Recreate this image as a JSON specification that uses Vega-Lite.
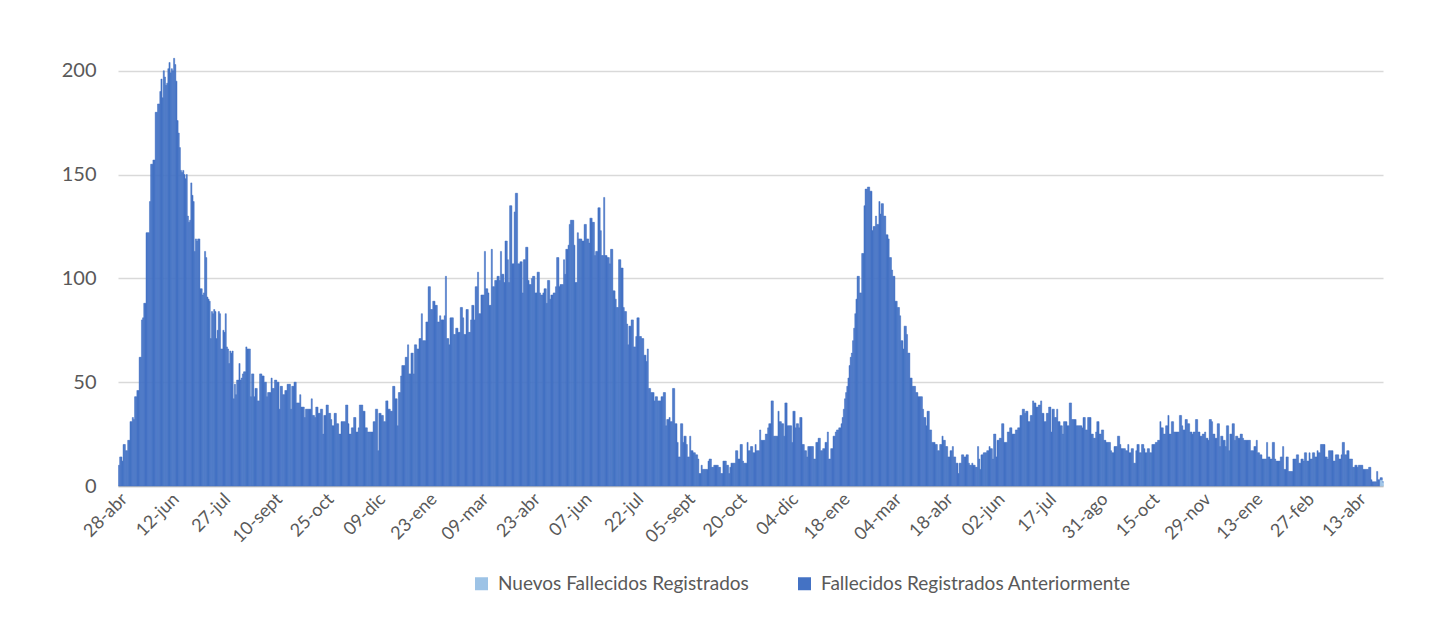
{
"$schema": "https://vega.github.io/schema/vega-lite/v6.json",
"width": 1265, "height": 436,
"autosize": {"type": "none"},
"padding": {"left": 118, "top": 50, "right": 46, "bottom": 141},
"background": "white",
"config": {"view": {"stroke": null}, "font": "Lato"},
"data": {"values": [
{"d":"2020-04-28","a":10},{"d":"2020-04-29","a":14},{"d":"2020-04-30","a":14},
{"d":"2020-05-01","a":12},{"d":"2020-05-02","a":20},{"d":"2020-05-03","a":20},{"d":"2020-05-04","a":17},{"d":"2020-05-05","a":17},{"d":"2020-05-06","a":22},{"d":"2020-05-07","a":22},{"d":"2020-05-08","a":31},{"d":"2020-05-09","a":31},{"d":"2020-05-10","a":33},{"d":"2020-05-11","a":32},{"d":"2020-05-12","a":43},{"d":"2020-05-13","a":43},{"d":"2020-05-14","a":46},{"d":"2020-05-15","a":46},{"d":"2020-05-16","a":62},{"d":"2020-05-17","a":62},{"d":"2020-05-18","a":80},{"d":"2020-05-19","a":81},{"d":"2020-05-20","a":88},{"d":"2020-05-21","a":88},{"d":"2020-05-22","a":122},{"d":"2020-05-23","a":122},{"d":"2020-05-24","a":122},{"d":"2020-05-25","a":137},{"d":"2020-05-26","a":155},{"d":"2020-05-27","a":155},{"d":"2020-05-28","a":157},{"d":"2020-05-29","a":157},{"d":"2020-05-30","a":180},{"d":"2020-05-31","a":180},
{"d":"2020-06-01","a":184},{"d":"2020-06-02","a":184},{"d":"2020-06-03","a":190},{"d":"2020-06-04","a":196},{"d":"2020-06-05","a":187},{"d":"2020-06-06","a":200},{"d":"2020-06-07","a":197},{"d":"2020-06-08","a":193},{"d":"2020-06-09","a":194},{"d":"2020-06-10","a":201},{"d":"2020-06-11","a":204},{"d":"2020-06-12","a":199},{"d":"2020-06-13","a":201},{"d":"2020-06-14","a":200},{"d":"2020-06-15","a":206},{"d":"2020-06-16","a":203},{"d":"2020-06-17","a":195},{"d":"2020-06-18","a":176},{"d":"2020-06-19","a":170},{"d":"2020-06-20","a":163},{"d":"2020-06-21","a":152},{"d":"2020-06-22","a":151},{"d":"2020-06-23","a":152},{"d":"2020-06-24","a":150},{"d":"2020-06-25","a":148},{"d":"2020-06-26","a":150},{"d":"2020-06-27","a":130},{"d":"2020-06-28","a":127},{"d":"2020-06-29","a":128},{"d":"2020-06-30","a":146},
{"d":"2020-07-01","a":140},{"d":"2020-07-02","a":137},{"d":"2020-07-03","a":113},{"d":"2020-07-04","a":119},{"d":"2020-07-05","a":118},{"d":"2020-07-06","a":119},{"d":"2020-07-07","a":119},{"d":"2020-07-08","a":95},{"d":"2020-07-09","a":95},{"d":"2020-07-10","a":92},{"d":"2020-07-11","a":93},{"d":"2020-07-12","a":113},{"d":"2020-07-13","a":110},{"d":"2020-07-14","a":91},{"d":"2020-07-15","a":90},{"d":"2020-07-16","a":89},{"d":"2020-07-17","a":71},{"d":"2020-07-18","a":84},{"d":"2020-07-19","a":83},{"d":"2020-07-20","a":85},{"d":"2020-07-21","a":84},{"d":"2020-07-22","a":71},{"d":"2020-07-23","a":75},{"d":"2020-07-24","a":84},{"d":"2020-07-25","a":83},{"d":"2020-07-26","a":66},{"d":"2020-07-27","a":66},{"d":"2020-07-28","a":75},{"d":"2020-07-29","a":74},{"d":"2020-07-30","a":83},{"d":"2020-07-31","a":67},
{"d":"2020-08-01","a":66},{"d":"2020-08-02","a":59},{"d":"2020-08-03","a":65},{"d":"2020-08-04","a":64},{"d":"2020-08-05","a":65},{"d":"2020-08-06","a":42},{"d":"2020-08-07","a":49},{"d":"2020-08-08","a":44},{"d":"2020-08-09","a":51},{"d":"2020-08-10","a":51},{"d":"2020-08-11","a":59},{"d":"2020-08-12","a":51},{"d":"2020-08-13","a":52},{"d":"2020-08-14","a":54},{"d":"2020-08-15","a":55},{"d":"2020-08-16","a":55},{"d":"2020-08-17","a":67},{"d":"2020-08-18","a":66},{"d":"2020-08-19","a":66},{"d":"2020-08-20","a":66},{"d":"2020-08-21","a":43},{"d":"2020-08-22","a":54},{"d":"2020-08-23","a":54},{"d":"2020-08-24","a":43},{"d":"2020-08-25","a":47},{"d":"2020-08-26","a":47},{"d":"2020-08-27","a":41},{"d":"2020-08-28","a":41},{"d":"2020-08-29","a":54},{"d":"2020-08-30","a":54},{"d":"2020-08-31","a":53},
{"d":"2020-09-01","a":53},{"d":"2020-09-02","a":50},{"d":"2020-09-03","a":50},{"d":"2020-09-04","a":43},{"d":"2020-09-05","a":45},{"d":"2020-09-06","a":45},{"d":"2020-09-07","a":45},{"d":"2020-09-08","a":52},{"d":"2020-09-09","a":47},{"d":"2020-09-10","a":47},{"d":"2020-09-11","a":51},{"d":"2020-09-12","a":51},{"d":"2020-09-13","a":50},{"d":"2020-09-14","a":50},{"d":"2020-09-15","a":37},{"d":"2020-09-16","a":48},{"d":"2020-09-17","a":48},{"d":"2020-09-18","a":44},{"d":"2020-09-19","a":44},{"d":"2020-09-20","a":46},{"d":"2020-09-21","a":46},{"d":"2020-09-22","a":49},{"d":"2020-09-23","a":49},{"d":"2020-09-24","a":49},{"d":"2020-09-25","a":37},{"d":"2020-09-26","a":48},{"d":"2020-09-27","a":48},{"d":"2020-09-28","a":50},{"d":"2020-09-29","a":50},{"d":"2020-09-30","a":40},
{"d":"2020-10-01","a":40},{"d":"2020-10-02","a":40},{"d":"2020-10-03","a":44},{"d":"2020-10-04","a":38},{"d":"2020-10-05","a":38},{"d":"2020-10-06","a":38},{"d":"2020-10-07","a":33},{"d":"2020-10-08","a":37},{"d":"2020-10-09","a":37},{"d":"2020-10-10","a":37},{"d":"2020-10-11","a":37},{"d":"2020-10-12","a":37},{"d":"2020-10-13","a":42},{"d":"2020-10-14","a":34},{"d":"2020-10-15","a":34},{"d":"2020-10-16","a":33},{"d":"2020-10-17","a":38},{"d":"2020-10-18","a":38},{"d":"2020-10-19","a":35},{"d":"2020-10-20","a":35},{"d":"2020-10-21","a":37},{"d":"2020-10-22","a":37},{"d":"2020-10-23","a":25},{"d":"2020-10-24","a":34},{"d":"2020-10-25","a":34},{"d":"2020-10-26","a":39},{"d":"2020-10-27","a":39},{"d":"2020-10-28","a":35},{"d":"2020-10-29","a":35},{"d":"2020-10-30","a":32},{"d":"2020-10-31","a":29},
{"d":"2020-11-01","a":29},{"d":"2020-11-02","a":35},{"d":"2020-11-03","a":35},{"d":"2020-11-04","a":30},{"d":"2020-11-05","a":30},{"d":"2020-11-06","a":25},{"d":"2020-11-07","a":25},{"d":"2020-11-08","a":31},{"d":"2020-11-09","a":31},{"d":"2020-11-10","a":31},{"d":"2020-11-11","a":31},{"d":"2020-11-12","a":39},{"d":"2020-11-13","a":39},{"d":"2020-11-14","a":30},{"d":"2020-11-15","a":25},{"d":"2020-11-16","a":25},{"d":"2020-11-17","a":28},{"d":"2020-11-18","a":28},{"d":"2020-11-19","a":33},{"d":"2020-11-20","a":33},{"d":"2020-11-21","a":26},{"d":"2020-11-22","a":26},{"d":"2020-11-23","a":28},{"d":"2020-11-24","a":39},{"d":"2020-11-25","a":39},{"d":"2020-11-26","a":39},{"d":"2020-11-27","a":36},{"d":"2020-11-28","a":36},{"d":"2020-11-29","a":28},{"d":"2020-11-30","a":28},
{"d":"2020-12-01","a":26},{"d":"2020-12-02","a":26},{"d":"2020-12-03","a":26},{"d":"2020-12-04","a":26},{"d":"2020-12-05","a":26},{"d":"2020-12-06","a":31},{"d":"2020-12-07","a":31},{"d":"2020-12-08","a":37},{"d":"2020-12-09","a":37},{"d":"2020-12-10","a":17},{"d":"2020-12-11","a":35},{"d":"2020-12-12","a":35},{"d":"2020-12-13","a":34},{"d":"2020-12-14","a":34},{"d":"2020-12-15","a":31},{"d":"2020-12-16","a":31},{"d":"2020-12-17","a":41},{"d":"2020-12-18","a":41},{"d":"2020-12-19","a":37},{"d":"2020-12-20","a":37},{"d":"2020-12-21","a":36},{"d":"2020-12-22","a":36},{"d":"2020-12-23","a":48},{"d":"2020-12-24","a":48},{"d":"2020-12-25","a":42},{"d":"2020-12-26","a":42},{"d":"2020-12-27","a":29},{"d":"2020-12-28","a":45},{"d":"2020-12-29","a":45},{"d":"2020-12-30","a":53},{"d":"2020-12-31","a":58},
{"d":"2021-01-01","a":58},{"d":"2021-01-02","a":58},{"d":"2021-01-03","a":62},{"d":"2021-01-04","a":62},{"d":"2021-01-05","a":68},{"d":"2021-01-06","a":54},{"d":"2021-01-07","a":54},{"d":"2021-01-08","a":64},{"d":"2021-01-09","a":64},{"d":"2021-01-10","a":54},{"d":"2021-01-11","a":68},{"d":"2021-01-12","a":68},{"d":"2021-01-13","a":66},{"d":"2021-01-14","a":66},{"d":"2021-01-15","a":71},{"d":"2021-01-16","a":71},{"d":"2021-01-17","a":83},{"d":"2021-01-18","a":70},{"d":"2021-01-19","a":70},{"d":"2021-01-20","a":70},{"d":"2021-01-21","a":79},{"d":"2021-01-22","a":79},{"d":"2021-01-23","a":96},{"d":"2021-01-24","a":96},{"d":"2021-01-25","a":85},{"d":"2021-01-26","a":85},{"d":"2021-01-27","a":89},{"d":"2021-01-28","a":89},{"d":"2021-01-29","a":87},{"d":"2021-01-30","a":87},{"d":"2021-01-31","a":79},
{"d":"2021-02-01","a":79},{"d":"2021-02-02","a":82},{"d":"2021-02-03","a":80},{"d":"2021-02-04","a":80},{"d":"2021-02-05","a":80},{"d":"2021-02-06","a":82},{"d":"2021-02-07","a":101},{"d":"2021-02-08","a":71},{"d":"2021-02-09","a":71},{"d":"2021-02-10","a":68},{"d":"2021-02-11","a":81},{"d":"2021-02-12","a":81},{"d":"2021-02-13","a":81},{"d":"2021-02-14","a":73},{"d":"2021-02-15","a":73},{"d":"2021-02-16","a":76},{"d":"2021-02-17","a":76},{"d":"2021-02-18","a":74},{"d":"2021-02-19","a":74},{"d":"2021-02-20","a":86},{"d":"2021-02-21","a":86},{"d":"2021-02-22","a":81},{"d":"2021-02-23","a":73},{"d":"2021-02-24","a":73},{"d":"2021-02-25","a":85},{"d":"2021-02-26","a":85},{"d":"2021-02-27","a":74},{"d":"2021-02-28","a":74},
{"d":"2021-03-01","a":80},{"d":"2021-03-02","a":87},{"d":"2021-03-03","a":87},{"d":"2021-03-04","a":80},{"d":"2021-03-05","a":96},{"d":"2021-03-06","a":96},{"d":"2021-03-07","a":103},{"d":"2021-03-08","a":83},{"d":"2021-03-09","a":83},{"d":"2021-03-10","a":92},{"d":"2021-03-11","a":92},{"d":"2021-03-12","a":92},{"d":"2021-03-13","a":113},{"d":"2021-03-14","a":95},{"d":"2021-03-15","a":95},{"d":"2021-03-16","a":93},{"d":"2021-03-17","a":87},{"d":"2021-03-18","a":87},{"d":"2021-03-19","a":114},{"d":"2021-03-20","a":96},{"d":"2021-03-21","a":96},{"d":"2021-03-22","a":99},{"d":"2021-03-23","a":99},{"d":"2021-03-24","a":101},{"d":"2021-03-25","a":101},{"d":"2021-03-26","a":99},{"d":"2021-03-27","a":113},{"d":"2021-03-28","a":102},{"d":"2021-03-29","a":102},{"d":"2021-03-30","a":98},{"d":"2021-03-31","a":118},
{"d":"2021-04-01","a":118},{"d":"2021-04-02","a":109},{"d":"2021-04-03","a":98},{"d":"2021-04-04","a":135},{"d":"2021-04-05","a":135},{"d":"2021-04-06","a":107},{"d":"2021-04-07","a":107},{"d":"2021-04-08","a":132},{"d":"2021-04-09","a":141},{"d":"2021-04-10","a":141},{"d":"2021-04-11","a":107},{"d":"2021-04-12","a":107},{"d":"2021-04-13","a":108},{"d":"2021-04-14","a":108},{"d":"2021-04-15","a":93},{"d":"2021-04-16","a":109},{"d":"2021-04-17","a":109},{"d":"2021-04-18","a":115},{"d":"2021-04-19","a":115},{"d":"2021-04-20","a":99},{"d":"2021-04-21","a":97},{"d":"2021-04-22","a":97},{"d":"2021-04-23","a":100},{"d":"2021-04-24","a":101},{"d":"2021-04-25","a":101},{"d":"2021-04-26","a":93},{"d":"2021-04-27","a":93},{"d":"2021-04-28","a":103},{"d":"2021-04-29","a":103},{"d":"2021-04-30","a":93},
{"d":"2021-05-01","a":92},{"d":"2021-05-02","a":92},{"d":"2021-05-03","a":93},{"d":"2021-05-04","a":95},{"d":"2021-05-05","a":95},{"d":"2021-05-06","a":88},{"d":"2021-05-07","a":99},{"d":"2021-05-08","a":99},{"d":"2021-05-09","a":90},{"d":"2021-05-10","a":92},{"d":"2021-05-11","a":92},{"d":"2021-05-12","a":93},{"d":"2021-05-13","a":93},{"d":"2021-05-14","a":96},{"d":"2021-05-15","a":110},{"d":"2021-05-16","a":110},{"d":"2021-05-17","a":96},{"d":"2021-05-18","a":97},{"d":"2021-05-19","a":97},{"d":"2021-05-20","a":97},{"d":"2021-05-21","a":109},{"d":"2021-05-22","a":102},{"d":"2021-05-23","a":114},{"d":"2021-05-24","a":114},{"d":"2021-05-25","a":116},{"d":"2021-05-26","a":126},{"d":"2021-05-27","a":128},{"d":"2021-05-28","a":128},{"d":"2021-05-29","a":128},{"d":"2021-05-30","a":116},{"d":"2021-05-31","a":98},
{"d":"2021-06-01","a":98},{"d":"2021-06-02","a":122},{"d":"2021-06-03","a":119},{"d":"2021-06-04","a":119},{"d":"2021-06-05","a":119},{"d":"2021-06-06","a":118},{"d":"2021-06-07","a":118},{"d":"2021-06-08","a":126},{"d":"2021-06-09","a":126},{"d":"2021-06-10","a":119},{"d":"2021-06-11","a":119},{"d":"2021-06-12","a":117},{"d":"2021-06-13","a":129},{"d":"2021-06-14","a":129},{"d":"2021-06-15","a":127},{"d":"2021-06-16","a":127},{"d":"2021-06-17","a":111},{"d":"2021-06-18","a":113},{"d":"2021-06-19","a":113},{"d":"2021-06-20","a":134},{"d":"2021-06-21","a":134},{"d":"2021-06-22","a":123},{"d":"2021-06-23","a":111},{"d":"2021-06-24","a":111},{"d":"2021-06-25","a":139},{"d":"2021-06-26","a":111},{"d":"2021-06-27","a":111},{"d":"2021-06-28","a":110},{"d":"2021-06-29","a":110},{"d":"2021-06-30","a":107},
{"d":"2021-07-01","a":114},{"d":"2021-07-02","a":114},{"d":"2021-07-03","a":94},{"d":"2021-07-04","a":94},{"d":"2021-07-05","a":90},{"d":"2021-07-06","a":86},{"d":"2021-07-07","a":86},{"d":"2021-07-08","a":109},{"d":"2021-07-09","a":109},{"d":"2021-07-10","a":105},{"d":"2021-07-11","a":105},{"d":"2021-07-12","a":86},{"d":"2021-07-13","a":84},{"d":"2021-07-14","a":84},{"d":"2021-07-15","a":78},{"d":"2021-07-16","a":68},{"d":"2021-07-17","a":77},{"d":"2021-07-18","a":77},{"d":"2021-07-19","a":80},{"d":"2021-07-20","a":80},{"d":"2021-07-21","a":67},{"d":"2021-07-22","a":67},{"d":"2021-07-23","a":72},{"d":"2021-07-24","a":81},{"d":"2021-07-25","a":81},{"d":"2021-07-26","a":72},{"d":"2021-07-27","a":72},{"d":"2021-07-28","a":71},{"d":"2021-07-29","a":71},{"d":"2021-07-30","a":63},{"d":"2021-07-31","a":63},
{"d":"2021-08-01","a":60},{"d":"2021-08-02","a":66},{"d":"2021-08-03","a":47},{"d":"2021-08-04","a":47},{"d":"2021-08-05","a":45},{"d":"2021-08-06","a":45},{"d":"2021-08-07","a":45},{"d":"2021-08-08","a":41},{"d":"2021-08-09","a":43},{"d":"2021-08-10","a":43},{"d":"2021-08-11","a":41},{"d":"2021-08-12","a":41},{"d":"2021-08-13","a":41},{"d":"2021-08-14","a":43},{"d":"2021-08-15","a":43},{"d":"2021-08-16","a":45},{"d":"2021-08-17","a":45},{"d":"2021-08-18","a":29},{"d":"2021-08-19","a":32},{"d":"2021-08-20","a":32},{"d":"2021-08-21","a":33},{"d":"2021-08-22","a":31},{"d":"2021-08-23","a":31},{"d":"2021-08-24","a":47},{"d":"2021-08-25","a":47},{"d":"2021-08-26","a":30},{"d":"2021-08-27","a":30},{"d":"2021-08-28","a":21},{"d":"2021-08-29","a":14},{"d":"2021-08-30","a":14},{"d":"2021-08-31","a":30},
{"d":"2021-09-01","a":30},{"d":"2021-09-02","a":21},{"d":"2021-09-03","a":24},{"d":"2021-09-04","a":24},{"d":"2021-09-05","a":20},{"d":"2021-09-06","a":14},{"d":"2021-09-07","a":14},{"d":"2021-09-08","a":24},{"d":"2021-09-09","a":17},{"d":"2021-09-10","a":17},{"d":"2021-09-11","a":16},{"d":"2021-09-12","a":16},{"d":"2021-09-13","a":15},{"d":"2021-09-14","a":15},{"d":"2021-09-15","a":13},{"d":"2021-09-16","a":6},{"d":"2021-09-17","a":6},{"d":"2021-09-18","a":10},{"d":"2021-09-19","a":8},{"d":"2021-09-20","a":8},{"d":"2021-09-21","a":8},{"d":"2021-09-22","a":8},{"d":"2021-09-23","a":8},{"d":"2021-09-24","a":12},{"d":"2021-09-25","a":13},{"d":"2021-09-26","a":13},{"d":"2021-09-27","a":9},{"d":"2021-09-28","a":9},{"d":"2021-09-29","a":10},{"d":"2021-09-30","a":10},
{"d":"2021-10-01","a":10},{"d":"2021-10-02","a":10},{"d":"2021-10-03","a":9},{"d":"2021-10-04","a":9},{"d":"2021-10-05","a":6},{"d":"2021-10-06","a":6},{"d":"2021-10-07","a":12},{"d":"2021-10-08","a":12},{"d":"2021-10-09","a":12},{"d":"2021-10-10","a":10},{"d":"2021-10-11","a":10},{"d":"2021-10-12","a":6},{"d":"2021-10-13","a":9},{"d":"2021-10-14","a":11},{"d":"2021-10-15","a":11},{"d":"2021-10-16","a":11},{"d":"2021-10-17","a":11},{"d":"2021-10-18","a":17},{"d":"2021-10-19","a":17},{"d":"2021-10-20","a":13},{"d":"2021-10-21","a":13},{"d":"2021-10-22","a":20},{"d":"2021-10-23","a":20},{"d":"2021-10-24","a":12},{"d":"2021-10-25","a":11},{"d":"2021-10-26","a":11},{"d":"2021-10-27","a":11},{"d":"2021-10-28","a":21},{"d":"2021-10-29","a":17},{"d":"2021-10-30","a":17},{"d":"2021-10-31","a":19},
{"d":"2021-11-01","a":19},{"d":"2021-11-02","a":16},{"d":"2021-11-03","a":16},{"d":"2021-11-04","a":20},{"d":"2021-11-05","a":17},{"d":"2021-11-06","a":17},{"d":"2021-11-07","a":17},{"d":"2021-11-08","a":27},{"d":"2021-11-09","a":22},{"d":"2021-11-10","a":22},{"d":"2021-11-11","a":22},{"d":"2021-11-12","a":22},{"d":"2021-11-13","a":25},{"d":"2021-11-14","a":25},{"d":"2021-11-15","a":28},{"d":"2021-11-16","a":30},{"d":"2021-11-17","a":30},{"d":"2021-11-18","a":41},{"d":"2021-11-19","a":41},{"d":"2021-11-20","a":24},{"d":"2021-11-21","a":24},{"d":"2021-11-22","a":24},{"d":"2021-11-23","a":24},{"d":"2021-11-24","a":36},{"d":"2021-11-25","a":31},{"d":"2021-11-26","a":31},{"d":"2021-11-27","a":30},{"d":"2021-11-28","a":30},{"d":"2021-11-29","a":24},{"d":"2021-11-30","a":40},
{"d":"2021-12-01","a":40},{"d":"2021-12-02","a":29},{"d":"2021-12-03","a":29},{"d":"2021-12-04","a":29},{"d":"2021-12-05","a":29},{"d":"2021-12-06","a":21},{"d":"2021-12-07","a":36},{"d":"2021-12-08","a":36},{"d":"2021-12-09","a":28},{"d":"2021-12-10","a":30},{"d":"2021-12-11","a":30},{"d":"2021-12-12","a":28},{"d":"2021-12-13","a":33},{"d":"2021-12-14","a":33},{"d":"2021-12-15","a":20},{"d":"2021-12-16","a":20},{"d":"2021-12-17","a":17},{"d":"2021-12-18","a":17},{"d":"2021-12-19","a":14},{"d":"2021-12-20","a":19},{"d":"2021-12-21","a":19},{"d":"2021-12-22","a":19},{"d":"2021-12-23","a":19},{"d":"2021-12-24","a":19},{"d":"2021-12-25","a":13},{"d":"2021-12-26","a":13},{"d":"2021-12-27","a":21},{"d":"2021-12-28","a":21},{"d":"2021-12-29","a":23},{"d":"2021-12-30","a":23},{"d":"2021-12-31","a":17},
{"d":"2022-01-01","a":17},{"d":"2022-01-02","a":18},{"d":"2022-01-03","a":18},{"d":"2022-01-04","a":21},{"d":"2022-01-05","a":21},{"d":"2022-01-06","a":26},{"d":"2022-01-07","a":13},{"d":"2022-01-08","a":13},{"d":"2022-01-09","a":18},{"d":"2022-01-10","a":18},{"d":"2022-01-11","a":24},{"d":"2022-01-12","a":24},{"d":"2022-01-13","a":26},{"d":"2022-01-14","a":27},{"d":"2022-01-15","a":27},{"d":"2022-01-16","a":28},{"d":"2022-01-17","a":28},{"d":"2022-01-18","a":30},{"d":"2022-01-19","a":33},{"d":"2022-01-20","a":37},{"d":"2022-01-21","a":42},{"d":"2022-01-22","a":45},{"d":"2022-01-23","a":48},{"d":"2022-01-24","a":52},{"d":"2022-01-25","a":58},{"d":"2022-01-26","a":62},{"d":"2022-01-27","a":64},{"d":"2022-01-28","a":70},{"d":"2022-01-29","a":76},{"d":"2022-01-30","a":83},{"d":"2022-01-31","a":90},
{"d":"2022-02-01","a":101},{"d":"2022-02-02","a":101},{"d":"2022-02-03","a":93},{"d":"2022-02-04","a":93},{"d":"2022-02-05","a":112},{"d":"2022-02-06","a":112},{"d":"2022-02-07","a":135},{"d":"2022-02-08","a":143},{"d":"2022-02-09","a":143},{"d":"2022-02-10","a":144},{"d":"2022-02-11","a":144},{"d":"2022-02-12","a":142},{"d":"2022-02-13","a":142},{"d":"2022-02-14","a":123},{"d":"2022-02-15","a":125},{"d":"2022-02-16","a":125},{"d":"2022-02-17","a":130},{"d":"2022-02-18","a":126},{"d":"2022-02-19","a":126},{"d":"2022-02-20","a":137},{"d":"2022-02-21","a":131},{"d":"2022-02-22","a":136},{"d":"2022-02-23","a":136},{"d":"2022-02-24","a":130},{"d":"2022-02-25","a":130},{"d":"2022-02-26","a":121},{"d":"2022-02-27","a":121},{"d":"2022-02-28","a":119},
{"d":"2022-03-01","a":110},{"d":"2022-03-02","a":110},{"d":"2022-03-03","a":104},{"d":"2022-03-04","a":101},{"d":"2022-03-05","a":101},{"d":"2022-03-06","a":89},{"d":"2022-03-07","a":89},{"d":"2022-03-08","a":86},{"d":"2022-03-09","a":86},{"d":"2022-03-10","a":82},{"d":"2022-03-11","a":70},{"d":"2022-03-12","a":70},{"d":"2022-03-13","a":66},{"d":"2022-03-14","a":77},{"d":"2022-03-15","a":77},{"d":"2022-03-16","a":73},{"d":"2022-03-17","a":64},{"d":"2022-03-18","a":64},{"d":"2022-03-19","a":52},{"d":"2022-03-20","a":52},{"d":"2022-03-21","a":48},{"d":"2022-03-22","a":48},{"d":"2022-03-23","a":48},{"d":"2022-03-24","a":45},{"d":"2022-03-25","a":45},{"d":"2022-03-26","a":43},{"d":"2022-03-27","a":43},{"d":"2022-03-28","a":43},{"d":"2022-03-29","a":43},{"d":"2022-03-30","a":37},{"d":"2022-03-31","a":33},
{"d":"2022-04-01","a":33},{"d":"2022-04-02","a":29},{"d":"2022-04-03","a":36},{"d":"2022-04-04","a":36},{"d":"2022-04-05","a":27},{"d":"2022-04-06","a":27},{"d":"2022-04-07","a":21},{"d":"2022-04-08","a":21},{"d":"2022-04-09","a":21},{"d":"2022-04-10","a":20},{"d":"2022-04-11","a":20},{"d":"2022-04-12","a":17},{"d":"2022-04-13","a":17},{"d":"2022-04-14","a":20},{"d":"2022-04-15","a":20},{"d":"2022-04-16","a":24},{"d":"2022-04-17","a":22},{"d":"2022-04-18","a":22},{"d":"2022-04-19","a":19},{"d":"2022-04-20","a":19},{"d":"2022-04-21","a":14},{"d":"2022-04-22","a":14},{"d":"2022-04-23","a":17},{"d":"2022-04-24","a":17},{"d":"2022-04-25","a":19},{"d":"2022-04-26","a":14},{"d":"2022-04-27","a":14},{"d":"2022-04-28","a":11},{"d":"2022-04-29","a":11},{"d":"2022-04-30","a":6},
{"d":"2022-05-01","a":11},{"d":"2022-05-02","a":11},{"d":"2022-05-03","a":15},{"d":"2022-05-04","a":15},{"d":"2022-05-05","a":14},{"d":"2022-05-06","a":14},{"d":"2022-05-07","a":15},{"d":"2022-05-08","a":15},{"d":"2022-05-09","a":11},{"d":"2022-05-10","a":10},{"d":"2022-05-11","a":10},{"d":"2022-05-12","a":11},{"d":"2022-05-13","a":10},{"d":"2022-05-14","a":10},{"d":"2022-05-15","a":9},{"d":"2022-05-16","a":9},{"d":"2022-05-17","a":19},{"d":"2022-05-18","a":13},{"d":"2022-05-19","a":8},{"d":"2022-05-20","a":15},{"d":"2022-05-21","a":15},{"d":"2022-05-22","a":16},{"d":"2022-05-23","a":16},{"d":"2022-05-24","a":16},{"d":"2022-05-25","a":17},{"d":"2022-05-26","a":17},{"d":"2022-05-27","a":19},{"d":"2022-05-28","a":18},{"d":"2022-05-29","a":18},{"d":"2022-05-30","a":13},{"d":"2022-05-31","a":25},
{"d":"2022-06-01","a":25},{"d":"2022-06-02","a":14},{"d":"2022-06-03","a":22},{"d":"2022-06-04","a":22},{"d":"2022-06-05","a":23},{"d":"2022-06-06","a":23},{"d":"2022-06-07","a":30},{"d":"2022-06-08","a":30},{"d":"2022-06-09","a":21},{"d":"2022-06-10","a":21},{"d":"2022-06-11","a":21},{"d":"2022-06-12","a":26},{"d":"2022-06-13","a":26},{"d":"2022-06-14","a":28},{"d":"2022-06-15","a":28},{"d":"2022-06-16","a":25},{"d":"2022-06-17","a":25},{"d":"2022-06-18","a":25},{"d":"2022-06-19","a":27},{"d":"2022-06-20","a":27},{"d":"2022-06-21","a":28},{"d":"2022-06-22","a":28},{"d":"2022-06-23","a":34},{"d":"2022-06-24","a":34},{"d":"2022-06-25","a":37},{"d":"2022-06-26","a":37},{"d":"2022-06-27","a":35},{"d":"2022-06-28","a":36},{"d":"2022-06-29","a":36},{"d":"2022-06-30","a":31},
{"d":"2022-07-01","a":31},{"d":"2022-07-02","a":34},{"d":"2022-07-03","a":34},{"d":"2022-07-04","a":41},{"d":"2022-07-05","a":40},{"d":"2022-07-06","a":40},{"d":"2022-07-07","a":38},{"d":"2022-07-08","a":38},{"d":"2022-07-09","a":39},{"d":"2022-07-10","a":39},{"d":"2022-07-11","a":41},{"d":"2022-07-12","a":35},{"d":"2022-07-13","a":35},{"d":"2022-07-14","a":31},{"d":"2022-07-15","a":31},{"d":"2022-07-16","a":35},{"d":"2022-07-17","a":35},{"d":"2022-07-18","a":38},{"d":"2022-07-19","a":38},{"d":"2022-07-20","a":26},{"d":"2022-07-21","a":37},{"d":"2022-07-22","a":37},{"d":"2022-07-23","a":33},{"d":"2022-07-24","a":33},{"d":"2022-07-25","a":37},{"d":"2022-07-26","a":31},{"d":"2022-07-27","a":31},{"d":"2022-07-28","a":29},{"d":"2022-07-29","a":29},{"d":"2022-07-30","a":25},{"d":"2022-07-31","a":31},
{"d":"2022-08-01","a":31},{"d":"2022-08-02","a":31},{"d":"2022-08-03","a":29},{"d":"2022-08-04","a":29},{"d":"2022-08-05","a":40},{"d":"2022-08-06","a":40},{"d":"2022-08-07","a":32},{"d":"2022-08-08","a":32},{"d":"2022-08-09","a":32},{"d":"2022-08-10","a":32},{"d":"2022-08-11","a":29},{"d":"2022-08-12","a":29},{"d":"2022-08-13","a":29},{"d":"2022-08-14","a":29},{"d":"2022-08-15","a":29},{"d":"2022-08-16","a":28},{"d":"2022-08-17","a":33},{"d":"2022-08-18","a":33},{"d":"2022-08-19","a":27},{"d":"2022-08-20","a":27},{"d":"2022-08-21","a":33},{"d":"2022-08-22","a":33},{"d":"2022-08-23","a":33},{"d":"2022-08-24","a":25},{"d":"2022-08-25","a":25},{"d":"2022-08-26","a":23},{"d":"2022-08-27","a":23},{"d":"2022-08-28","a":26},{"d":"2022-08-29","a":31},{"d":"2022-08-30","a":31},{"d":"2022-08-31","a":25},
{"d":"2022-09-01","a":25},{"d":"2022-09-02","a":27},{"d":"2022-09-03","a":27},{"d":"2022-09-04","a":22},{"d":"2022-09-05","a":22},{"d":"2022-09-06","a":21},{"d":"2022-09-07","a":21},{"d":"2022-09-08","a":21},{"d":"2022-09-09","a":21},{"d":"2022-09-10","a":17},{"d":"2022-09-11","a":16},{"d":"2022-09-12","a":16},{"d":"2022-09-13","a":19},{"d":"2022-09-14","a":19},{"d":"2022-09-15","a":19},{"d":"2022-09-16","a":24},{"d":"2022-09-17","a":24},{"d":"2022-09-18","a":20},{"d":"2022-09-19","a":18},{"d":"2022-09-20","a":18},{"d":"2022-09-21","a":18},{"d":"2022-09-22","a":18},{"d":"2022-09-23","a":17},{"d":"2022-09-24","a":17},{"d":"2022-09-25","a":20},{"d":"2022-09-26","a":16},{"d":"2022-09-27","a":16},{"d":"2022-09-28","a":18},{"d":"2022-09-29","a":18},{"d":"2022-09-30","a":11},
{"d":"2022-10-01","a":11},{"d":"2022-10-02","a":17},{"d":"2022-10-03","a":20},{"d":"2022-10-04","a":20},{"d":"2022-10-05","a":16},{"d":"2022-10-06","a":16},{"d":"2022-10-07","a":20},{"d":"2022-10-08","a":20},{"d":"2022-10-09","a":18},{"d":"2022-10-10","a":16},{"d":"2022-10-11","a":16},{"d":"2022-10-12","a":18},{"d":"2022-10-13","a":18},{"d":"2022-10-14","a":16},{"d":"2022-10-15","a":16},{"d":"2022-10-16","a":20},{"d":"2022-10-17","a":20},{"d":"2022-10-18","a":20},{"d":"2022-10-19","a":21},{"d":"2022-10-20","a":21},{"d":"2022-10-21","a":22},{"d":"2022-10-22","a":22},{"d":"2022-10-23","a":31},{"d":"2022-10-24","a":28},{"d":"2022-10-25","a":28},{"d":"2022-10-26","a":25},{"d":"2022-10-27","a":25},{"d":"2022-10-28","a":29},{"d":"2022-10-29","a":29},{"d":"2022-10-30","a":34},{"d":"2022-10-31","a":25},
{"d":"2022-11-01","a":25},{"d":"2022-11-02","a":31},{"d":"2022-11-03","a":31},{"d":"2022-11-04","a":26},{"d":"2022-11-05","a":26},{"d":"2022-11-06","a":26},{"d":"2022-11-07","a":26},{"d":"2022-11-08","a":26},{"d":"2022-11-09","a":34},{"d":"2022-11-10","a":34},{"d":"2022-11-11","a":29},{"d":"2022-11-12","a":27},{"d":"2022-11-13","a":27},{"d":"2022-11-14","a":32},{"d":"2022-11-15","a":32},{"d":"2022-11-16","a":30},{"d":"2022-11-17","a":30},{"d":"2022-11-18","a":26},{"d":"2022-11-19","a":26},{"d":"2022-11-20","a":25},{"d":"2022-11-21","a":26},{"d":"2022-11-22","a":26},{"d":"2022-11-23","a":32},{"d":"2022-11-24","a":32},{"d":"2022-11-25","a":26},{"d":"2022-11-26","a":26},{"d":"2022-11-27","a":24},{"d":"2022-11-28","a":24},{"d":"2022-11-29","a":25},{"d":"2022-11-30","a":25},
{"d":"2022-12-01","a":26},{"d":"2022-12-02","a":23},{"d":"2022-12-03","a":23},{"d":"2022-12-04","a":22},{"d":"2022-12-05","a":32},{"d":"2022-12-06","a":32},{"d":"2022-12-07","a":31},{"d":"2022-12-08","a":25},{"d":"2022-12-09","a":25},{"d":"2022-12-10","a":23},{"d":"2022-12-11","a":23},{"d":"2022-12-12","a":30},{"d":"2022-12-13","a":30},{"d":"2022-12-14","a":19},{"d":"2022-12-15","a":24},{"d":"2022-12-16","a":24},{"d":"2022-12-17","a":22},{"d":"2022-12-18","a":22},{"d":"2022-12-19","a":19},{"d":"2022-12-20","a":29},{"d":"2022-12-21","a":29},{"d":"2022-12-22","a":17},{"d":"2022-12-23","a":25},{"d":"2022-12-24","a":25},{"d":"2022-12-25","a":30},{"d":"2022-12-26","a":30},{"d":"2022-12-27","a":22},{"d":"2022-12-28","a":24},{"d":"2022-12-29","a":24},{"d":"2022-12-30","a":23},{"d":"2022-12-31","a":23},
{"d":"2023-01-01","a":25},{"d":"2023-01-02","a":25},{"d":"2023-01-03","a":23},{"d":"2023-01-04","a":22},{"d":"2023-01-05","a":22},{"d":"2023-01-06","a":22},{"d":"2023-01-07","a":22},{"d":"2023-01-08","a":22},{"d":"2023-01-09","a":22},{"d":"2023-01-10","a":17},{"d":"2023-01-11","a":17},{"d":"2023-01-12","a":17},{"d":"2023-01-13","a":19},{"d":"2023-01-14","a":19},{"d":"2023-01-15","a":22},{"d":"2023-01-16","a":16},{"d":"2023-01-17","a":16},{"d":"2023-01-18","a":15},{"d":"2023-01-19","a":15},{"d":"2023-01-20","a":13},{"d":"2023-01-21","a":13},{"d":"2023-01-22","a":13},{"d":"2023-01-23","a":13},{"d":"2023-01-24","a":21},{"d":"2023-01-25","a":14},{"d":"2023-01-26","a":14},{"d":"2023-01-27","a":13},{"d":"2023-01-28","a":13},{"d":"2023-01-29","a":21},{"d":"2023-01-30","a":21},{"d":"2023-01-31","a":13},
{"d":"2023-02-01","a":12},{"d":"2023-02-02","a":12},{"d":"2023-02-03","a":12},{"d":"2023-02-04","a":12},{"d":"2023-02-05","a":14},{"d":"2023-02-06","a":14},{"d":"2023-02-07","a":19},{"d":"2023-02-08","a":8},{"d":"2023-02-09","a":8},{"d":"2023-02-10","a":14},{"d":"2023-02-11","a":14},{"d":"2023-02-12","a":7},{"d":"2023-02-13","a":7},{"d":"2023-02-14","a":7},{"d":"2023-02-15","a":7},{"d":"2023-02-16","a":13},{"d":"2023-02-17","a":13},{"d":"2023-02-18","a":13},{"d":"2023-02-19","a":15},{"d":"2023-02-20","a":15},{"d":"2023-02-21","a":11},{"d":"2023-02-22","a":11},{"d":"2023-02-23","a":13},{"d":"2023-02-24","a":13},{"d":"2023-02-25","a":12},{"d":"2023-02-26","a":16},{"d":"2023-02-27","a":16},{"d":"2023-02-28","a":12},
{"d":"2023-03-01","a":12},{"d":"2023-03-02","a":16},{"d":"2023-03-03","a":13},{"d":"2023-03-04","a":13},{"d":"2023-03-05","a":16},{"d":"2023-03-06","a":16},{"d":"2023-03-07","a":14},{"d":"2023-03-08","a":14},{"d":"2023-03-09","a":17},{"d":"2023-03-10","a":16},{"d":"2023-03-11","a":16},{"d":"2023-03-12","a":20},{"d":"2023-03-13","a":20},{"d":"2023-03-14","a":20},{"d":"2023-03-15","a":20},{"d":"2023-03-16","a":14},{"d":"2023-03-17","a":14},{"d":"2023-03-18","a":13},{"d":"2023-03-19","a":17},{"d":"2023-03-20","a":17},{"d":"2023-03-21","a":17},{"d":"2023-03-22","a":17},{"d":"2023-03-23","a":12},{"d":"2023-03-24","a":12},{"d":"2023-03-25","a":15},{"d":"2023-03-26","a":15},{"d":"2023-03-27","a":15},{"d":"2023-03-28","a":13},{"d":"2023-03-29","a":13},{"d":"2023-03-30","a":15},{"d":"2023-03-31","a":21},
{"d":"2023-04-01","a":21},{"d":"2023-04-02","a":15},{"d":"2023-04-03","a":15},{"d":"2023-04-04","a":17},{"d":"2023-04-05","a":17},{"d":"2023-04-06","a":13},{"d":"2023-04-07","a":13},{"d":"2023-04-08","a":13},{"d":"2023-04-09","a":9},{"d":"2023-04-10","a":9},{"d":"2023-04-11","a":10},{"d":"2023-04-12","a":10},{"d":"2023-04-13","a":9},{"d":"2023-04-14","a":10},{"d":"2023-04-15","a":10},{"d":"2023-04-16","a":10},{"d":"2023-04-17","a":10},{"d":"2023-04-18","a":8},{"d":"2023-04-19","a":8},{"d":"2023-04-20","a":8},{"d":"2023-04-21","a":8},{"d":"2023-04-22","a":8},{"d":"2023-04-23","a":9},{"d":"2023-04-24","a":9},{"d":"2023-04-25","a":3},{"d":"2023-04-26","a":2},{"d":"2023-04-27","a":2},{"d":"2023-04-28","a":2},{"d":"2023-04-29","a":2},{"d":"2023-04-30","a":7},
{"d":"2023-05-01","a":3},{"d":"2023-05-02","a":3},{"d":"2023-05-03","a":1,"n":3},{"d":"2023-05-04","a":1,"n":3},{"d":"2023-05-05","a":0,"n":2}
]},
"transform": [
{"fold": ["n", "a"], "as": ["serie", "valor"]},
{"filter": "isValid(datum.valor)"}
],
"mark": {"type": "bar", "binSpacing": 0, "strokeWidth": 0.5},
"encoding": {
"x": {"field": "d", "type": "temporal", "timeUnit": "utcyearmonthdate",
 "scale": {"domain": [{"year": 2020, "month": 4, "date": 28, "utc": true}, {"year": 2023, "month": 5, "date": 6, "utc": true}]},
 "axis": {"title": null, "grid": false, "ticks": false, "labelAngle": -45, "labelFontSize": 18, "labelColor": "#595959", "labelPadding": 4, "domainColor": "#bfbfbf", "domainWidth": 1.5, "labelOverlap": false, "labelFlush": false,
  "values": [{"year":2020,"month":4,"date":28,"utc":true},{"year":2020,"month":6,"date":12,"utc":true},{"year":2020,"month":7,"date":27,"utc":true},{"year":2020,"month":9,"date":10,"utc":true},{"year":2020,"month":10,"date":25,"utc":true},{"year":2020,"month":12,"date":9,"utc":true},{"year":2021,"month":1,"date":23,"utc":true},{"year":2021,"month":3,"date":9,"utc":true},{"year":2021,"month":4,"date":23,"utc":true},{"year":2021,"month":6,"date":7,"utc":true},{"year":2021,"month":7,"date":22,"utc":true},{"year":2021,"month":9,"date":5,"utc":true},{"year":2021,"month":10,"date":20,"utc":true},{"year":2021,"month":12,"date":4,"utc":true},{"year":2022,"month":1,"date":18,"utc":true},{"year":2022,"month":3,"date":4,"utc":true},{"year":2022,"month":4,"date":18,"utc":true},{"year":2022,"month":6,"date":2,"utc":true},{"year":2022,"month":7,"date":17,"utc":true},{"year":2022,"month":8,"date":31,"utc":true},{"year":2022,"month":10,"date":15,"utc":true},{"year":2022,"month":11,"date":29,"utc":true},{"year":2023,"month":1,"date":13,"utc":true},{"year":2023,"month":2,"date":27,"utc":true},{"year":2023,"month":4,"date":13,"utc":true}],
  "labelExpr": "utcFormat(datum.value, '%d') + '-' + ['ene','feb','mar','abr','may','jun','jul','ago','sept','oct','nov','dic'][utcmonth(datum.value)]"}},
"y": {"field": "valor", "type": "quantitative", "stack": "zero",
 "scale": {"domain": [0, 210], "nice": false},
 "axis": {"title": null, "values": [0, 50, 100, 150, 200], "grid": true, "gridColor": "#d9d9d9", "gridWidth": 1.5, "domain": false, "ticks": false, "labelFontSize": 20, "labelColor": "#595959", "labelPadding": 22}},
"color": {"field": "serie", "type": "nominal",
 "scale": {"domain": ["n", "a"], "range": ["#9dc3e6", "#4472c4"]},
 "legend": {"title": null, "orient": "none", "legendX": 354, "legendY": 524, "direction": "horizontal", "symbolType": "square", "symbolSize": 169, "symbolStrokeWidth": 0, "labelFontSize": 19, "labelLimit": 0, "labelColor": "#595959", "columnPadding": 46, "labelOffset": 7,
  "labelExpr": "datum.label == 'n' ? 'Nuevos Fallecidos Registrados' : 'Fallecidos Registrados Anteriormente'"}},
"stroke": {"field": "serie", "type": "nominal", "scale": {"domain": ["n", "a"], "range": ["#9dc3e6", "#4472c4"]}, "legend": null}
}
}
